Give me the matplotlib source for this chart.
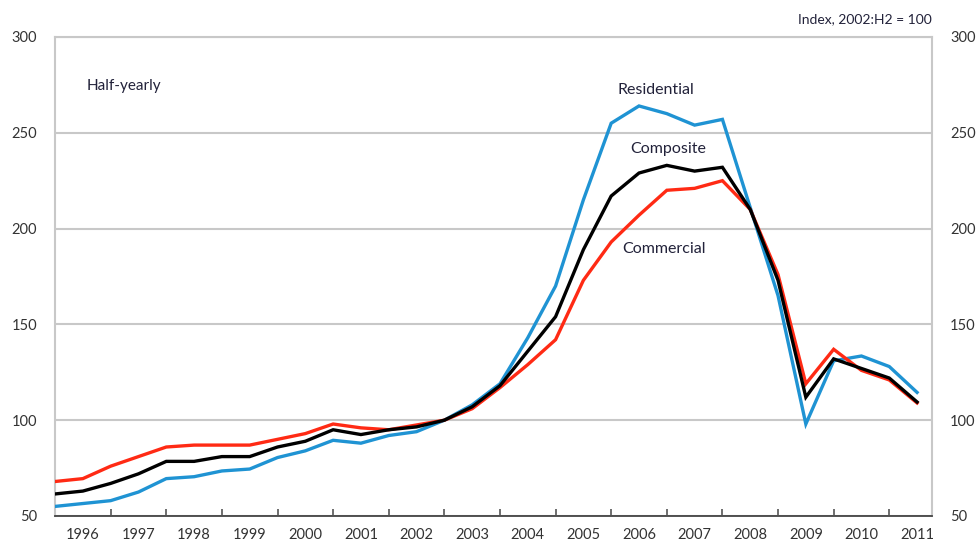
import matplotlib.pyplot as plt
import numpy as np

# half-yearly observations, 1996:H1 .. 2011:H1
periods = np.arange(1996.0, 2011.51, 0.5)

residential = [55, 56.5, 58, 62.5, 69.5, 70.5, 73.5, 74.5, 80.5, 84,
               89.5, 88, 92, 94, 100, 108, 119, 143, 170, 215,
               255, 264, 260, 254, 257, 211, 165, 98, 131, 133.5,
               128, 114.5]
composite = [61.5, 63, 67, 72, 78.5, 78.5, 81, 81, 86, 89,
             95, 92.5, 95, 96.5, 100, 107, 118, 136, 154, 189,
             217, 229, 233, 230, 232, 210, 173, 112, 132, 127,
             122, 109.5]
commercial = [68, 69.5, 76, 81, 86, 87, 87, 87, 90, 93,
              98, 96, 95, 97.5, 100, 106, 117, 129, 142, 173,
              193, 207, 220, 221, 225, 210, 176, 119, 137, 126,
              121, 109]

years = list(range(1996, 2012))
yticks = [50, 100, 150, 200, 250, 300]

plt.rcParams['font.family'] = ['Lato', 'DejaVu Sans']

text_col = '#22223a'
grid_col = '#c8c8c8'

fig = plt.figure(figsize=(9.76, 5.44), dpi=100)
ax = fig.add_axes([0.0564, 0.0515, 0.8986, 0.8805])

ax.plot(periods, residential, color='#1f93d3', lw=2.4, solid_joinstyle='miter', zorder=3)
ax.plot(periods, commercial, color='#ff2a14', lw=2.4, solid_joinstyle='miter', zorder=4)
ax.plot(periods, composite, color='black', lw=2.4, solid_joinstyle='miter', zorder=5)

ax.set_xlim(1996, 2011.77)
ax.set_ylim(50, 300)

# year boundary ticks, labels centred in each year
ax.set_xticks(years)
ax.set_xticklabels([])
ax.set_xticks([y + 0.5 for y in years], minor=True)
ax.set_xticklabels([str(y) for y in years], minor=True)
ax.tick_params(axis='x', which='major', direction='in', length=5, width=1.2, color='#555555')
ax.tick_params(axis='x', which='minor', length=0, pad=9, labelsize=10.5, labelcolor='#333333')

ax.set_yticks(yticks)
ax.tick_params(axis='y', length=0, pad=13, labelsize=10.5, labelcolor='#333333',
               labelleft=True, labelright=True)

ax.grid(axis='y', color=grid_col, lw=1.5, zorder=0)
for s in ['left', 'right', 'top']:
    ax.spines[s].set_color(grid_col)
    ax.spines[s].set_linewidth(1.5)
ax.spines['bottom'].set_color('#444444')
ax.spines['bottom'].set_linewidth(1.3)

ax.text(1996.57, 274.5, 'Half-yearly', fontsize=11, color=text_col, ha='left', va='center')
ax.text(1, 1.025, 'Index, 2002:H2 = 100', transform=ax.transAxes, fontsize=10,
        color=text_col, ha='right', va='bottom')
ax.text(2006.8, 272.5, 'Residential', fontsize=11.5, color=text_col, ha='center', va='center')
ax.text(2007.02, 241.5, 'Composite', fontsize=11.5, color=text_col, ha='center', va='center')
ax.text(2006.95, 189.5, 'Commercial', fontsize=11.5, color=text_col, ha='center', va='center')

fig.savefig('out.png', dpi=100)
